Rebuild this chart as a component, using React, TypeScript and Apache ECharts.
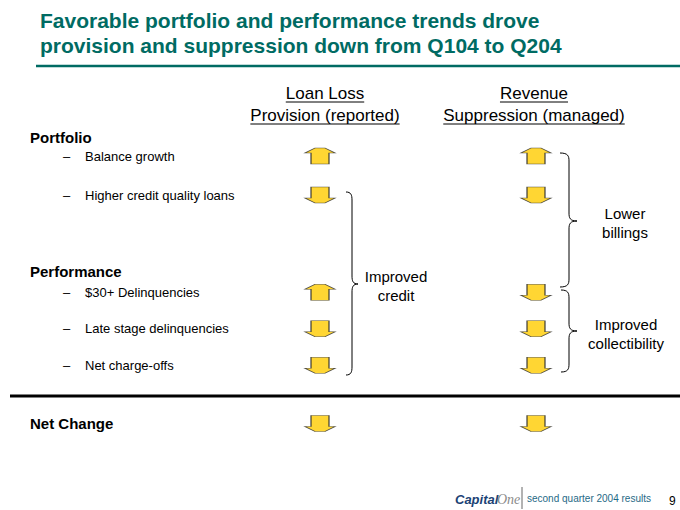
import React, { useEffect, useRef } from 'react';
import * as echarts from 'echarts';

const FONT = '"Liberation Sans", Arial, Helvetica, sans-serif';
const TEAL = '#006B63';
const ARROW_FILL = '#FFCC00';

// ---- content ----
const titleLines = [
  'Favorable portfolio and performance trends drove',
  'provision and suppression down from Q104 to Q204',
];
const columns = ['Loan Loss\nProvision (reported)', 'Revenue\nSuppression (managed)'];
const sections = ['Portfolio', 'Performance'];

const portfolioItems = ['Balance growth', 'Higher credit quality loans'];
const portfolioLoanLoss = [1, -1]; // 1 = up, -1 = down
const portfolioRevenue = [1, -1];

const performanceItems = ['$30+ Delinquencies', 'Late stage delinquencies', 'Net charge-offs'];
const performanceLoanLoss = [1, -1, -1];
const performanceRevenue = [-1, -1, -1];

const netItems = ['Net Change'];
const netLoanLoss = [-1];
const netRevenue = [-1];

const notes = ['Improved\ncredit', 'Lower\nbillings', 'Improved\ncollectibility'];
const footerText = 'second quarter 2004 results';
const pageNumber = '9';

// ---- shapes ----
const UP = 'path://M10,0L20,0L30,5L24,5L24,16L6,16L6,5L0,5Z';
const DOWN = 'path://M6,0L24,0L24,11L30,11L20,16L10,16L0,11L6,11Z';

function bracePath(x0: number, xv: number, xt: number, yTop: number, yTip: number, yBot: number) {
  const r = 8;
  return (
    `M${x0},${yTop} C${xv - 1},${yTop} ${xv},${yTop + 3} ${xv},${yTop + r} ` +
    `L${xv},${yTip - r} C${xv},${yTip - 3} ${xv + 1},${yTip} ${xt},${yTip} ` +
    `C${xv + 1},${yTip} ${xv},${yTip + 3} ${xv},${yTip + r} ` +
    `L${xv},${yBot - r} C${xv},${yBot - 3} ${xv - 1},${yBot} ${x0},${yBot}`
  );
}

let registered = false;
function registerShapes() {
  if (registered) return;
  registered = true;
  echarts.graphic.registerShape('braceA', echarts.graphic.extendPath(bracePath(346, 352, 358, 192, 284, 375), {}) as any);
  echarts.graphic.registerShape('braceB', echarts.graphic.extendPath(bracePath(560, 569, 577, 153, 221, 287), {}) as any);
  echarts.graphic.registerShape('braceC', echarts.graphic.extendPath(bracePath(561, 569, 577, 290, 331, 372), {}) as any);
}

function measure(text: string, font: string) {
  const c = document.createElement('canvas').getContext('2d');
  if (!c) return text.length * 8;
  c.font = font;
  return c.measureText(text).width;
}

function arrowData(loan: number[], rev: number[]) {
  const out: any[] = [];
  loan.forEach((d, r) => out.push({ value: [0, r], symbol: d > 0 ? UP : DOWN }));
  rev.forEach((d, r) => out.push({ value: [1, r], symbol: d > 0 ? UP : DOWN }));
  return out;
}

export default function App() {
  const ref = useRef<HTMLDivElement>(null);

  useEffect(() => {
    document.body.style.margin = '0';
    registerShapes();
    const chart = echarts.init(ref.current!, undefined, { renderer: 'svg' });

    const gridLeft = 212;
    const gridRight = 36;
    const grids = [
      { left: gridLeft, right: gridRight, top: 136.5, height: 78 },
      { left: gridLeft, right: gridRight, top: 274, height: 109.5 },
      { left: gridLeft, right: gridRight, top: 405, height: 37 },
    ];
    const colNames = columns.map((c) => c.replace('\n', ' '));
    const xAxes = grids.map((_, i) => ({
      type: 'category',
      gridIndex: i,
      data: colNames,
      show: false,
    }));
    const itemLabel = {
      align: 'left',
      margin: gridLeft - 63,
      formatter: (v: string) => `{d|–}{t|${v}}`,
      rich: {
        d: { width: 22, fontSize: 13, fontFamily: FONT, color: '#000' },
        t: { fontSize: 13, fontFamily: FONT, color: '#000' },
      },
    };
    const baseY = {
      type: 'category',
      inverse: true,
      axisLine: { show: false },
      axisTick: { show: false },
      splitLine: { show: false },
    };
    const yAxes = [
      { ...baseY, gridIndex: 0, data: portfolioItems, axisLabel: itemLabel },
      { ...baseY, gridIndex: 1, data: performanceItems, axisLabel: itemLabel },
      {
        ...baseY,
        gridIndex: 2,
        data: netItems,
        axisLabel: {
          align: 'left',
          margin: gridLeft - 30,
          fontSize: 15,
          fontWeight: 'bold',
          fontFamily: FONT,
          color: '#000',
        },
      },
    ];
    const arrowStyle = {
      color: ARROW_FILL,
      borderColor: '#2b2b2b',
      borderWidth: 1,
    };
    const series = [
      arrowData(portfolioLoanLoss, portfolioRevenue),
      arrowData(performanceLoanLoss, performanceRevenue),
      arrowData(netLoanLoss, netRevenue),
    ].map((data, i) => ({
      type: 'scatter',
      xAxisIndex: i,
      yAxisIndex: i,
      symbolSize: [30, 16],
      itemStyle: arrowStyle,
      data,
      silent: true,
    }));

    // headers
    const headerFont = `17px ${FONT}`;
    const headerCenters = [325, 534];
    const headerGraphics: any[] = [];
    columns.forEach((col, ci) => {
      col.split('\n').forEach((line, li) => {
        const cy = 93 + li * 22;
        const w = measure(line, headerFont);
        headerGraphics.push({
          type: 'text',
          style: {
            text: line,
            x: headerCenters[ci],
            y: cy,
            font: headerFont,
            fill: '#000',
            textAlign: 'center',
            textVerticalAlign: 'middle',
          },
        });
        headerGraphics.push({
          type: 'line',
          shape: { x1: headerCenters[ci] - w / 2, y1: cy + 9, x2: headerCenters[ci] + w / 2, y2: cy + 9 },
          style: { stroke: '#000', lineWidth: 1 },
        });
      });
    });

    const sectionY = [137, 271];
    const noteFont = `15px ${FONT}`;
    const notePos = [
      [396, 286],
      [625, 223],
      [626, 334],
    ];

    const graphic: any[] = [
      {
        type: 'text',
        style: {
          text: titleLines.join('\n'),
          x: 40,
          y: 8,
          font: `bold 21px ${FONT}`,
          lineHeight: 25,
          fill: TEAL,
          textVerticalAlign: 'top',
        },
      },
      {
        type: 'line',
        shape: { x1: 36, y1: 66, x2: 680, y2: 66 },
        style: { stroke: TEAL, lineWidth: 2.5 },
      },
      ...headerGraphics,
      ...sections.map((s, i) => ({
        type: 'text',
        style: {
          text: s,
          x: 30,
          y: sectionY[i],
          font: `bold 15px ${FONT}`,
          fill: '#000',
          textVerticalAlign: 'middle',
        },
      })),
      { type: 'braceA', style: { stroke: '#000', fill: 'none', lineWidth: 1 } },
      { type: 'braceB', style: { stroke: '#000', fill: 'none', lineWidth: 1 } },
      { type: 'braceC', style: { stroke: '#000', fill: 'none', lineWidth: 1 } },
      ...notes.map((n, i) => ({
        type: 'text',
        style: {
          text: n,
          x: notePos[i][0],
          y: notePos[i][1],
          font: noteFont,
          lineHeight: 19,
          fill: '#000',
          textAlign: 'center',
          textVerticalAlign: 'middle',
        },
      })),
      {
        type: 'line',
        shape: { x1: 10, y1: 396, x2: 680, y2: 396 },
        style: { stroke: '#000', lineWidth: 3 },
      },
      {
        type: 'text',
        style: {
          text: 'Capital',
          x: 455,
          y: 499,
          font: `italic bold 13px ${FONT}`,
          fill: '#1B4275',
          textVerticalAlign: 'middle',
        },
      },
      {
        type: 'text',
        style: {
          text: 'One',
          x: 497,
          y: 499,
          font: `italic 14px "Liberation Serif", "Times New Roman", serif`,
          fill: '#8a8a8a',
          textVerticalAlign: 'middle',
        },
      },
      {
        type: 'line',
        shape: { x1: 522, y1: 487, x2: 522, y2: 509 },
        style: { stroke: '#666', lineWidth: 1 },
      },
      {
        type: 'text',
        style: {
          text: footerText,
          x: 527,
          y: 498,
          font: `10px ${FONT}`,
          fill: '#1F6A86',
          textVerticalAlign: 'middle',
        },
      },
      {
        type: 'text',
        style: {
          text: pageNumber,
          x: 669,
          y: 501,
          font: `12px ${FONT}`,
          fill: '#000',
          textVerticalAlign: 'middle',
        },
      },
    ];

    chart.setOption({
      animation: false,
      backgroundColor: '#fff',
      grid: grids,
      xAxis: xAxes,
      yAxis: yAxes,
      series,
      graphic,
    } as any);

    return () => chart.dispose();
  }, []);

  return <div ref={ref} style={{ width: 680, height: 510 }} />;
}
